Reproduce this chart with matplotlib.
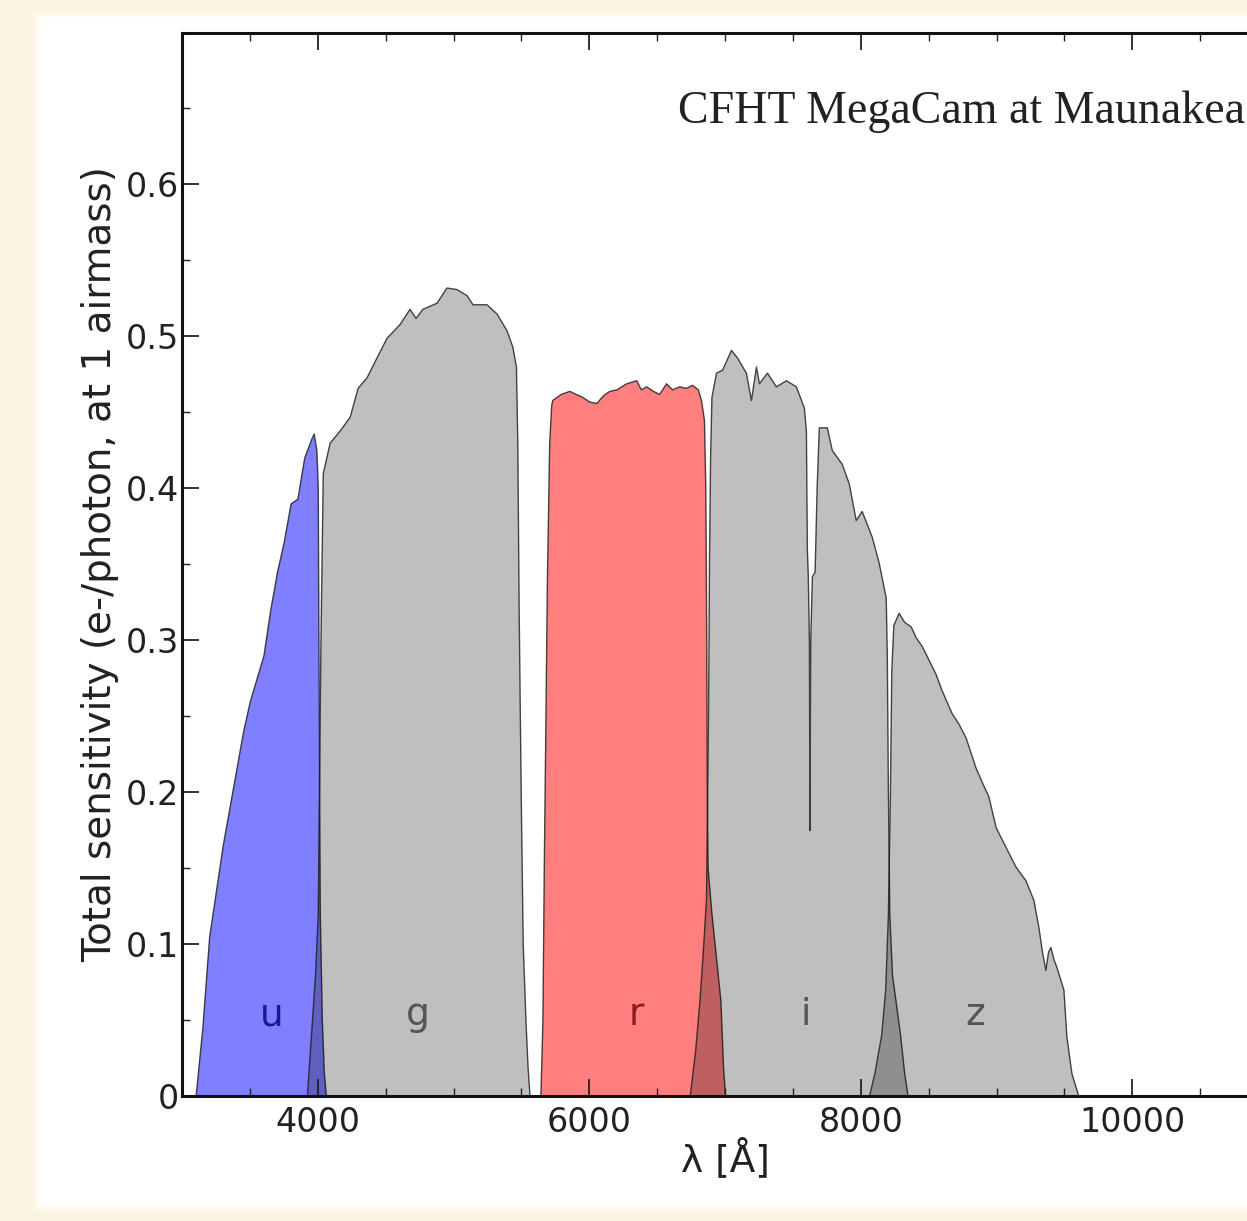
import matplotlib
matplotlib.use('Agg')
import numpy as np
from matplotlib import pyplot as plt
from matplotlib.patches import Rectangle
from matplotlib.ticker import MultipleLocator, FormatStrFormatter

# filter throughputs (wavelength in Angstrom, total sensitivity in e-/photon)
u_wl = [3100, 3150, 3200, 3250, 3300, 3350, 3400, 3450, 3500, 3550, 3600, 3650, 3700,
        3750, 3800, 3850, 3900, 3950, 3970, 3990, 4000, 4005, 4015, 4030, 4045, 4060]
u_tr = [0.0, 0.045, 0.105, 0.135, 0.165, 0.19, 0.215, 0.24, 0.26, 0.275, 0.29, 0.32, 0.345,
        0.365, 0.39, 0.393, 0.42, 0.432, 0.436, 0.425, 0.40, 0.30, 0.12, 0.05, 0.015, 0.0]

g_wl = [3920, 3950, 3980, 4000, 4020, 4037, 4088, 4162, 4235, 4294, 4360, 4433, 4507, 4603,
        4676, 4720, 4771, 4875, 4948, 5022, 5096, 5140, 5243, 5316, 5390, 5434, 5460, 5470,
        5480, 5495, 5510, 5530, 5545, 5560]
g_tr = [0.0, 0.04, 0.08, 0.12, 0.30, 0.41, 0.43, 0.438, 0.447, 0.466, 0.473, 0.486, 0.499, 0.508,
        0.518, 0.512, 0.518, 0.522, 0.532, 0.531, 0.527, 0.521, 0.521, 0.515, 0.504, 0.493, 0.48, 0.43,
        0.32, 0.20, 0.10, 0.05, 0.02, 0.0]

r_wl = [5640, 5655, 5665, 5675, 5688, 5705, 5720, 5728, 5790, 5853, 5900, 5949, 6000, 6052,
        6100, 6147, 6200, 6272, 6346, 6380, 6419, 6470, 6515, 6566, 6610, 6662, 6710, 6757,
        6800, 6823, 6845, 6855, 6862, 6866, 6872, 6900, 6935, 6966, 6985, 7000]
r_tr = [0.0, 0.05, 0.15, 0.23, 0.34, 0.43, 0.455, 0.458, 0.462, 0.464, 0.462, 0.460, 0.457, 0.456,
        0.461, 0.464, 0.465, 0.469, 0.471, 0.465, 0.467, 0.464, 0.462, 0.469, 0.465, 0.467, 0.466, 0.468,
        0.465, 0.458, 0.445, 0.40, 0.30, 0.20, 0.15, 0.12, 0.09, 0.063, 0.02, 0.0]

i_wl = [6740, 6780, 6812, 6840, 6860, 6875, 6882, 6890, 6900, 6934, 6979, 7044, 7088, 7154,
        7191, 7228, 7250, 7309, 7375, 7449, 7522, 7581, 7596, 7603, 7610, 7618, 7622, 7628,
        7640, 7660, 7675, 7691, 7750, 7787, 7860, 7912, 7963, 8007, 8081, 8132, 8184, 8192,
        8200, 8210, 8230, 8260, 8290, 8320, 8345]
i_tr = [0.0, 0.03, 0.063, 0.10, 0.13, 0.25, 0.35, 0.42, 0.46, 0.476, 0.478, 0.491, 0.486, 0.476,
        0.458, 0.480, 0.469, 0.476, 0.467, 0.471, 0.467, 0.453, 0.438, 0.36, 0.342, 0.30, 0.175, 0.30,
        0.342, 0.345, 0.40, 0.44, 0.44, 0.425, 0.416, 0.403, 0.379, 0.385, 0.368, 0.351, 0.328, 0.29,
        0.20, 0.12, 0.08, 0.06, 0.04, 0.015, 0.0]

z_wl = [8060, 8100, 8150, 8180, 8200, 8215, 8225, 8240, 8279, 8320, 8368, 8404, 8450, 8500,
        8550, 8596, 8669, 8720, 8772, 8846, 8900, 8941, 8993, 9066, 9140, 9213, 9272, 9309,
        9335, 9360, 9380, 9397, 9420, 9441, 9493, 9515, 9552, 9603]
z_tr = [0.0, 0.015, 0.04, 0.07, 0.12, 0.20, 0.28, 0.31, 0.318, 0.312, 0.309, 0.302, 0.296, 0.287,
        0.278, 0.267, 0.252, 0.245, 0.236, 0.216, 0.205, 0.197, 0.177, 0.164, 0.151, 0.142, 0.129, 0.111,
        0.095, 0.083, 0.095, 0.098, 0.090, 0.085, 0.070, 0.039, 0.015, 0.0]

band_names = ['u', 'g', 'r', 'i', 'z']
band_label_x = [3663, 4740, 6346, 7592, 8845]
band_label_y = 0.053

bands = [(u_wl, u_tr), (g_wl, g_tr), (r_wl, r_tr), (i_wl, i_tr), (z_wl, z_tr)]
face_colors = [(0, 0, 1, 0.5), (0, 0, 0, 0.25), (1, 0, 0, 0.5), (0, 0, 0, 0.25), (0, 0, 0, 0.25)]
text_colors = ['#1a1a8c', '#555555', '#8b1a1a', '#555555', '#555555']

W, H = 1247, 1221
fig = plt.figure(figsize=(W / 100, H / 100), dpi=100, facecolor='#f9f5e2')
# white sheet behind the plot, with a soft rim
for k, a in enumerate([0.35, 0.6, 1.0]):
    d = (2 - k) * 3
    fig.patches.append(Rectangle(((40 - d) / W, (16 - d) / H), 1.0, (1187 + 2 * d) / H,
                                 transform=fig.transFigure, facecolor='white', edgecolor='none',
                                 alpha=a, zorder=-1))

ax = fig.add_axes([182 / W, 125 / H, (1268 - 182) / W, (1096 - 33) / H])
ax.set_facecolor('white')
ax.set_zorder(2)

for (wl, tr), fc in zip(bands, face_colors):
    ax.fill_between(wl, 0, tr, facecolor=fc, edgecolor=(0.1, 0.1, 0.1, 0.8), linewidth=1.0)

for name, x, c in zip(band_names, band_label_x, text_colors):
    ax.text(x, band_label_y, name, color=c, fontsize=27, ha='center', va='center')

ax.text(0.979, 0.915, 'CFHT MegaCam at Maunakea', transform=ax.transAxes, ha='right',
        va='baseline', fontsize=33, family='Liberation Serif', color='#222222')

ax.set_xlim(3000, 11000)
ax.set_ylim(0, 0.6995)
ax.xaxis.set_major_locator(MultipleLocator(2000))
ax.xaxis.set_minor_locator(MultipleLocator(500))
ax.yaxis.set_major_locator(MultipleLocator(0.1))
ax.yaxis.set_minor_locator(MultipleLocator(0.05))
ax.yaxis.set_major_formatter(FormatStrFormatter('%g'))
ax.tick_params(which='both', direction='in', top=True, right=True, colors='#222222')
ax.tick_params(which='major', length=12, width=1.3, labelsize=24)
ax.tick_params(which='minor', length=6, width=1.0)
ax.tick_params(axis='x', which='major', pad=7)
ax.tick_params(axis='y', which='major', pad=2)
for sp in ax.spines.values():
    sp.set_linewidth(2.2)
    sp.set_color('#111111')

ax.set_xlabel('λ [Å]', fontsize=27, labelpad=0, color='#222222')
ax.set_ylabel('Total sensitivity (e-/photon, at 1 airmass)', fontsize=28, labelpad=5, color='#222222')

fig.savefig('out.png', dpi=100, facecolor=fig.get_facecolor())
